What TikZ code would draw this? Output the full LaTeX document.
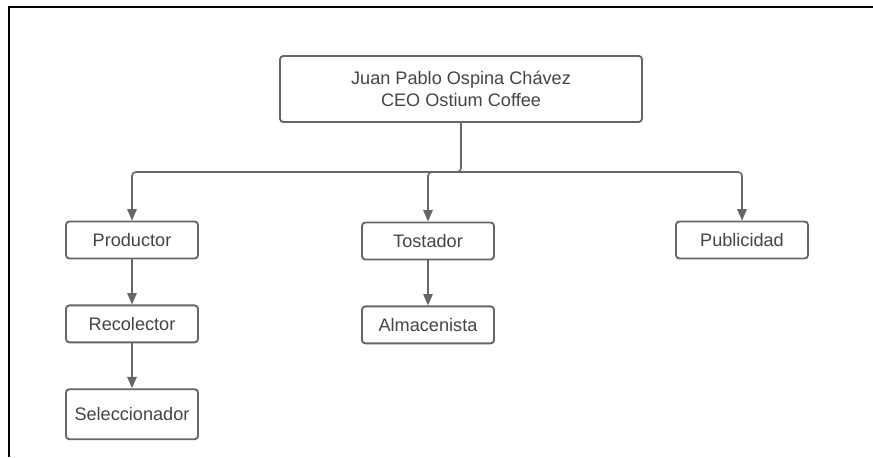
\documentclass[tikz,border=0pt]{standalone}
\usepackage{fontspec}
\setmainfont{Liberation Sans}
\usetikzlibrary{positioning,arrows.meta}
\definecolor{linegray}{HTML}{666666}
\definecolor{textgray}{HTML}{444444}

\begin{document}
\begin{tikzpicture}[x=0.75pt,y=-0.75pt,node distance=33.75pt,>={Triangle[length=8.5pt,width=7pt]},
	box/.style={draw=linegray,line width=1.4pt,rounded corners=2.5pt,text=textgray,font=\fontsize{13.6}{16}\selectfont,minimum width=99pt,minimum height=27.75pt,inner sep=0pt,align=center},
	link/.style={->,draw=linegray,line width=1.2pt,rounded corners=3pt}]

	\useasboundingbox (0,0) rectangle (873,457);
	\draw[line width=1.2pt] (9,457) -- (9,7) -- (873,7);

	\node[box,minimum width=271.5pt,minimum height=49.5pt] (ceo) at (461,89) {Juan Pablo Ospina Chávez\\CEO Ostium Coffee};

	\node[box] (prod) at (132,240) {Productor};
	\node[box] (reco) [below = of prod] {Recolector};
	\node[box,minimum height=37.5pt] (sele) [below = of reco] {Seleccionador};

	\node[box] (tost) at (428,241) {Tostador};
	\node[box] (alma) [below = of tost] {Almacenista};

	\node[box] (publ) at (742,240) {Publicidad};

	\coordinate (bus) at (461,172);

	\draw[link] (ceo.south) -- (bus) -| (prod.north);
	\draw[link] (bus) -| (tost.north);
	\draw[link] (bus) -| (publ.north);

	\draw[link] (prod) -- (reco);
	\draw[link] (reco) -- (sele);
	\draw[link] (tost) -- (alma);

\end{tikzpicture}
\end{document}
